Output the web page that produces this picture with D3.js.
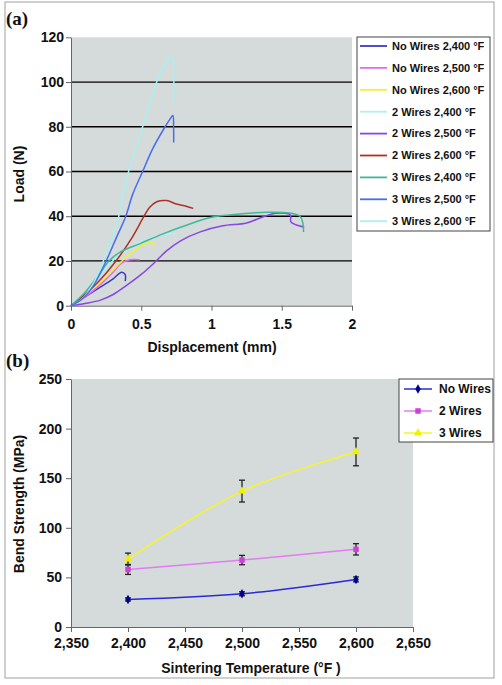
<!DOCTYPE html>
<html><head><meta charset="utf-8">
<script src="https://cdn.jsdelivr.net/npm/d3@7"></script>
<style>
body{margin:0;background:#fff;}
text{font-family:"Liberation Sans",Arial,sans-serif;font-weight:bold;fill:#111;}
</style></head>
<body><svg id="c" width="502" height="685"></svg>
<script>
// ---------- Panel (a): load vs displacement ----------
const seriesNamesA = ["No Wires 2,400 °F","No Wires 2,500 °F","No Wires 2,600 °F","2 Wires 2,400 °F","2 Wires 2,500 °F","2 Wires 2,600 °F","3 Wires 2,400 °F","3 Wires 2,500 °F","3 Wires 2,600 °F"];
const seriesColorsA = ["#3a3ac8","#e070e8","#f2f030","#aef2ee","#8848e0","#b03028","#40b898","#4a6cf0","#a6f2f0"];
const noWires2400 = [[0,0],[0.1,4],[0.2,8],[0.3,12],[0.36,15],[0.385,14],[0.386,11]];
const noWires2500 = [[0,0],[0.1,4],[0.2,9],[0.3,15],[0.36,19],[0.42,20.5],[0.49,20.5]];
const noWires2600 = [[0,0],[0.1,5],[0.2,10],[0.3,16],[0.38,21],[0.45,24.5],[0.52,27.5],[0.57,28.6],[0.6,27]];
const wires2_2400 = [[0,0],[0.1,5],[0.2,13],[0.28,19],[0.35,23],[0.45,27],[0.55,30],[0.65,31.8],[0.75,32.4]];
const wires2_2500 = [[0,0],[0.1,1],[0.21,2.5],[0.3,5],[0.4,9.3],[0.5,14],[0.59,19],[0.68,24.5],[0.78,29],[0.92,33],[1.08,35.7],[1.25,37],[1.37,39.8],[1.46,41.3],[1.56,40.6],[1.565,37.5],[1.6,36.2],[1.66,35.2]];
const wires2_2600 = [[0,0],[0.1,5],[0.2,11],[0.32,20],[0.43,30],[0.52,40],[0.56,44],[0.61,46.5],[0.68,47],[0.75,45.5],[0.82,44.5],[0.87,43.5]];
const wires3_2400 = [[0,0],[0.1,6],[0.2,14],[0.27,20],[0.35,24],[0.5,28],[0.65,32],[0.8,35.5],[1.0,39.5],[1.2,41],[1.4,41.8],[1.55,41.5],[1.63,40],[1.65,37],[1.655,33]];
const wires3_2500 = [[0,0],[0.08,3],[0.16,9],[0.25,20],[0.32,30],[0.39,40],[0.44,50],[0.51,60],[0.58,70],[0.66,79],[0.7,83],[0.725,85],[0.73,80],[0.731,73]];
const wires3_2600 = [[0,0],[0.08,3],[0.16,10],[0.23,20],[0.29,30],[0.34,40],[0.37,50],[0.41,60],[0.46,70],[0.51,80],[0.56,90],[0.61,100],[0.66,107],[0.71,112],[0.725,110],[0.73,90]];
const seriesA = [noWires2400,noWires2500,noWires2600,wires2_2400,wires2_2500,wires2_2600,wires3_2400,wires3_2500,wires3_2600];
const xTicksA = [0,0.5,1,1.5,2];
const yTicksA = [0,20,40,60,80,100,120];

// ---------- Panel (b): bend strength vs temperature ----------
const temps = [2400,2500,2600];
const seriesNamesB = ["No Wires","2 Wires","3 Wires"];
const strengthNoWires = [27.8,33.5,48];
const strength2Wires = [58,67.5,78.3];
const strength3Wires = [68.5,137,176.5];
const errNoWires = [1.5,2,2.5];
const err2Wires = [5,4.7,5.7];
const err3Wires = [6,11,14];
const xTicksB = [2350,2400,2450,2500,2550,2600,2650];
const yTicksB = [0,50,100,150,200,250];

const svg = d3.select("#c");
const bg = "#d4dbda";
const axisCol = "#666";

svg.append("rect").attr("x",5).attr("y",2).attr("width",489).attr("height",676)
  .attr("fill","none").attr("stroke","#a0a0a0").attr("stroke-width",1);

// ===== Panel a =====
const xA = d3.scaleLinear().domain([0,2]).range([71,352]);
const yA = d3.scaleLinear().domain([0,120]).range([305.7,37.3]);
svg.append("rect").attr("x",xA(0)).attr("y",yA(120)).attr("width",xA(2)-xA(0)).attr("height",yA(0)-yA(120)).attr("fill",bg);
svg.append("g").selectAll("line").data(yTicksA.filter(v=>v>0&&v<120)).join("line")
  .attr("x1",xA(0)).attr("x2",xA(2)).attr("y1",d=>yA(d)).attr("y2",d=>yA(d))
  .attr("stroke","#000").attr("stroke-width",1.3);

const lineA = d3.line().x(d=>xA(d[0])).y(d=>yA(d[1])).curve(d3.curveCatmullRom.alpha(0.5));
const drawOrder = [0,1,2,3,4,5,6,8,7];
drawOrder.forEach(i=>{
  svg.append("path").attr("d",lineA(seriesA[i])).attr("fill","none")
    .attr("stroke",seriesColorsA[i]).attr("stroke-width",1.5);
});

function styleAxis(g){
  g.select(".domain").attr("stroke",axisCol);
  g.selectAll(".tick line").attr("stroke",axisCol);
  g.selectAll("text").attr("font-size",14).attr("font-family","Liberation Sans, Arial, sans-serif").attr("font-weight","bold").attr("fill","#111");
}
svg.append("g").attr("transform",`translate(0,${yA(0)})`)
  .call(d3.axisBottom(xA).tickValues(xTicksA).tickFormat(d3.format("")).tickSize(5).tickPadding(8).tickSizeOuter(0))
  .call(styleAxis);
svg.append("g").attr("transform",`translate(${xA(0)},0)`)
  .call(d3.axisLeft(yA).tickValues(yTicksA).tickSize(5).tickPadding(2).tickSizeOuter(0))
  .call(styleAxis);

svg.append("text").attr("transform","translate(19,174) rotate(-90)").attr("text-anchor","middle")
  .attr("dy","0.35em").attr("font-size",14).text("Load (N)");
svg.append("text").attr("x",212).attr("y",352).attr("text-anchor","middle").attr("font-size",14).text("Displacement (mm)");
svg.append("text").attr("x",6).attr("y",25).attr("font-size",19).style("font-family","Liberation Serif, Times New Roman, serif").text("(a)");

const legA = svg.append("g");
legA.append("rect").attr("x",357).attr("y",37).attr("width",133).attr("height",194)
  .attr("fill","#fff").attr("stroke","#444").attr("stroke-width",1);
seriesNamesA.forEach((n,i)=>{
  const yy = 46 + i*21.9;
  legA.append("line").attr("x1",360).attr("x2",387).attr("y1",yy).attr("y2",yy)
    .attr("stroke",seriesColorsA[i]).attr("stroke-width",1.8);
  legA.append("text").attr("x",392).attr("y",yy).attr("dy","0.35em").attr("font-size",11).text(n);
});

// ===== Panel b =====
const xB = d3.scaleLinear().domain([2350,2650]).range([71,413]);
const yB = d3.scaleLinear().domain([0,250]).range([627,379]);
svg.append("rect").attr("x",xB(2350)).attr("y",yB(250)).attr("width",xB(2650)-xB(2350)).attr("height",yB(0)-yB(250)).attr("fill",bg);

const seriesB = [
  {name:seriesNamesB[0], vals:strengthNoWires, err:errNoWires, line:"#2a2ad8", mark:"#00008c", sym:d3.symbolDiamond, size:26},
  {name:seriesNamesB[1], vals:strength2Wires, err:err2Wires, line:"#e27cf2", mark:"#d040d8", sym:d3.symbolSquare, size:30},
  {name:seriesNamesB[2], vals:strength3Wires, err:err3Wires, line:"#f6f626", mark:"#f0f000", sym:d3.symbolTriangle, size:30}
];
const lineB = d3.line().x(d=>xB(d[0])).y(d=>yB(d[1])).curve(d3.curveCatmullRom.alpha(0.5));
seriesB.forEach(s=>{
  const pts = temps.map((t,i)=>[t,s.vals[i]]);
  svg.append("path").attr("d",lineB(pts)).attr("fill","none").attr("stroke",s.line).attr("stroke-width",1.5);
});
seriesB.forEach(s=>{
  temps.forEach((t,i)=>{
    const x = xB(t), y1 = yB(s.vals[i]-s.err[i]), y2 = yB(s.vals[i]+s.err[i]);
    const g = svg.append("g").attr("stroke","#222").attr("stroke-width",1.3);
    g.append("line").attr("x1",x).attr("x2",x).attr("y1",y1).attr("y2",y2);
    g.append("line").attr("x1",x-3).attr("x2",x+3).attr("y1",y1).attr("y2",y1);
    g.append("line").attr("x1",x-3).attr("x2",x+3).attr("y1",y2).attr("y2",y2);
  });
});
seriesB.forEach(s=>{
  temps.forEach((t,i)=>{
    svg.append("path").attr("d",d3.symbol(s.sym,s.size)())
      .attr("transform",`translate(${xB(t)},${yB(s.vals[i])})`).attr("fill",s.mark);
  });
});

svg.append("g").attr("transform",`translate(0,${yB(0)})`)
  .call(d3.axisBottom(xB).tickValues(xTicksB).tickFormat(d3.format(",")).tickSize(5).tickPadding(6).tickSizeOuter(0))
  .call(styleAxis);
svg.append("g").attr("transform",`translate(${xB(2350)},0)`)
  .call(d3.axisLeft(yB).tickValues(yTicksB).tickSize(5).tickPadding(4).tickSizeOuter(0))
  .call(styleAxis);

svg.append("text").attr("transform","translate(19,504) rotate(-90)").attr("text-anchor","middle")
  .attr("dy","0.35em").attr("font-size",14).text("Bend Strength (MPa)");
svg.append("text").attr("x",251).attr("y",673).attr("text-anchor","middle").attr("font-size",14).text("Sintering Temperature (°F )");
svg.append("text").attr("x",6).attr("y",367).attr("font-size",19).style("font-family","Liberation Serif, Times New Roman, serif").text("(b)");

const legB = svg.append("g");
legB.append("rect").attr("x",399).attr("y",379).attr("width",94).attr("height",63)
  .attr("fill","#fff").attr("stroke","#444").attr("stroke-width",1);
seriesB.forEach((s,i)=>{
  const yy = 389 + i*22;
  legB.append("line").attr("x1",404).attr("x2",432).attr("y1",yy).attr("y2",yy).attr("stroke",s.line).attr("stroke-width",1.5);
  legB.append("path").attr("d",d3.symbol(s.sym,s.size)()).attr("transform",`translate(418,${yy})`).attr("fill",s.mark);
  legB.append("text").attr("x",439).attr("y",yy).attr("dy","0.35em").attr("font-size",12).text(s.name);
});
</script></body></html>
